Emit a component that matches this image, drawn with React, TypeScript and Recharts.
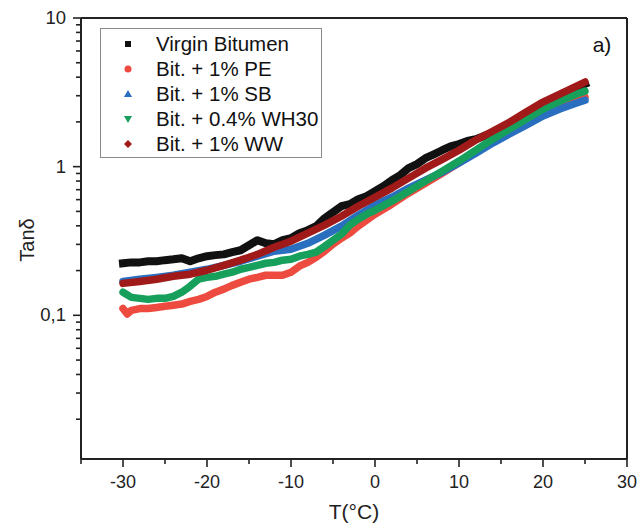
import React from 'react';
import { ComposedChart, Line, XAxis, YAxis, ReferenceLine } from 'recharts';

const FONT = '"Liberation Sans", Arial, Helvetica, sans-serif';

// Virgin Bitumen
const virginT = [-30, -29, -28, -27, -26, -25, -24, -23, -22, -21, -20, -19, -18, -17, -16, -15, -14, -13, -12, -11, -10, -9, -8, -7, -6, -5, -4, -3, -2, -1, 0, 1, 2, 3, 4, 5, 6, 7, 8, 9, 10, 11, 12, 13, 14, 16, 18, 20, 22, 24, 25];
const virginV = [0.224, 0.227, 0.227, 0.231, 0.231, 0.235, 0.238, 0.242, 0.231, 0.242, 0.25, 0.254, 0.257, 0.266, 0.274, 0.296, 0.32, 0.305, 0.301, 0.32, 0.33, 0.357, 0.374, 0.398, 0.45, 0.494, 0.542, 0.559, 0.604, 0.633, 0.684, 0.739, 0.811, 0.877, 0.977, 1.04, 1.14, 1.21, 1.29, 1.37, 1.42, 1.49, 1.53, 1.61, 1.68, 1.95, 2.26, 2.66, 3.02, 3.4, 3.6];

// Bit. + 1% PE
const peT = [-30, -29.5, -29, -28, -27, -26, -25, -24, -23, -22, -21, -20, -19, -18, -17, -16, -15, -14, -13, -12, -11, -10, -9, -8, -7, -6, -5, -4, -3, -2, -1, 0, 2, 4, 6, 8, 10, 12, 14, 16, 18, 20, 22, 24, 25];
const peV = [0.111, 0.102, 0.108, 0.111, 0.111, 0.113, 0.115, 0.117, 0.119, 0.124, 0.128, 0.134, 0.143, 0.15, 0.159, 0.167, 0.175, 0.18, 0.186, 0.186, 0.186, 0.195, 0.214, 0.227, 0.246, 0.27, 0.301, 0.33, 0.357, 0.398, 0.436, 0.479, 0.559, 0.663, 0.774, 0.904, 1.06, 1.25, 1.48, 1.73, 2.02, 2.33, 2.6, 2.85, 2.94];

// Bit. + 1% SB
const sbT = [-30, -28, -26, -24, -22, -20, -18, -16, -14, -12, -10, -8, -6, -4, -2, 0, 2, 4, 6, 8, 10, 12, 14, 16, 18, 20, 22, 24, 25];
const sbV = [0.169, 0.175, 0.18, 0.186, 0.195, 0.204, 0.217, 0.231, 0.25, 0.27, 0.278, 0.305, 0.346, 0.398, 0.471, 0.55, 0.623, 0.717, 0.811, 0.918, 1.06, 1.23, 1.44, 1.66, 1.9, 2.19, 2.44, 2.68, 2.8];

// Bit. + 0.4% WH30
const whT = [-30, -29, -28, -27, -26, -25, -24, -23, -22, -21, -20, -19, -18, -17, -16, -15, -14, -13, -12, -11, -10, -9, -8, -7, -6, -5, -4, -3, -2, -1, 0, 2, 4, 6, 8, 10, 12, 14, 16, 18, 20, 22, 24, 25];
const whV = [0.143, 0.132, 0.13, 0.128, 0.13, 0.13, 0.134, 0.143, 0.157, 0.175, 0.18, 0.183, 0.189, 0.195, 0.204, 0.21, 0.217, 0.224, 0.227, 0.235, 0.238, 0.25, 0.257, 0.266, 0.291, 0.32, 0.351, 0.404, 0.443, 0.479, 0.509, 0.586, 0.684, 0.799, 0.933, 1.09, 1.29, 1.53, 1.79, 2.09, 2.44, 2.76, 3.08, 3.22];

// Bit. + 1% WW
const wwT = [-30, -28, -26, -24, -22, -20, -18, -16, -14, -12, -10, -8, -6, -4, -2, 0, 2, 4, 6, 8, 10, 12, 14, 16, 18, 20, 22, 24, 25];
const wwV = [0.164, 0.169, 0.175, 0.183, 0.189, 0.201, 0.217, 0.235, 0.257, 0.287, 0.315, 0.357, 0.404, 0.464, 0.542, 0.623, 0.717, 0.837, 0.977, 1.12, 1.29, 1.51, 1.73, 1.99, 2.33, 2.72, 3.08, 3.48, 3.71];

const seriesNames = ['Virgin Bitumen', 'Bit. + 1% PE', 'Bit. + 1% SB', 'Bit. + 0.4% WH30', 'Bit. + 1% WW'];
const seriesColors = ['#111111', '#ee4b40', '#2a6ec0', '#17a05c', '#a11a1a'];

const xTicks = [-35, -30, -25, -20, -15, -10, -5, 0, 5, 10, 15, 20, 25, 30];
const xMajor = [-30, -20, -10, 0, 10, 20, 30];
const yTicks = [0.02, 0.03, 0.04, 0.05, 0.06, 0.07, 0.08, 0.09, 0.1, 0.2, 0.3, 0.4, 0.5, 0.6, 0.7, 0.8, 0.9, 1, 2, 3, 4, 5, 6, 7, 8, 9, 10];
const yMajorLabels: Record<string, string> = { '0.1': '0,1', '1': '1', '10': '10' };

const zip = (t: number[], v: number[]) => t.map((x, i) => ({ t: x, v: v[i] }));
const seriesData = [zip(virginT, virginV), zip(peT, peV), zip(sbT, sbV), zip(whT, whV), zip(wwT, wwV)];

const XTick = (props: any) => {
  const { x, y, payload } = props;
  const major = xMajor.includes(payload.value);
  return (
    <g>
      <line x1={x} x2={x} y1={y} y2={y + (major ? 8 : 5)} stroke="#222" strokeWidth={1.6} />
      {major && (
        <text x={x} y={y + 29} textAnchor="middle" fontSize={18} fill="#222" fontFamily={FONT}>
          {payload.value}
        </text>
      )}
    </g>
  );
};

const YTick = (props: any) => {
  const { x, y, payload } = props;
  const label = yMajorLabels[String(payload.value)];
  return (
    <g>
      <line x1={x} x2={x - (label ? 8 : 5)} y1={y} y2={y} stroke="#222" strokeWidth={1.6} />
      {label && (
        <text x={x - 15} y={y + 6} textAnchor="end" fontSize={18.5} fill="#222" fontFamily={FONT}>
          {label}
        </text>
      )}
    </g>
  );
};

const Marker = ({ i, color }: { i: number; color: string }) => {
  const c = 8;
  let shape: React.ReactNode = null;
  if (i === 0) shape = <rect x={c - 3} y={c - 3} width={6} height={6} fill={color} />;
  if (i === 1) shape = <circle cx={c} cy={c} r={3.5} fill={color} />;
  if (i === 2) shape = <polygon points={`${c},${c - 4} ${c + 4},${c + 3} ${c - 4},${c + 3}`} fill={color} />;
  if (i === 3) shape = <polygon points={`${c - 4},${c - 3} ${c + 4},${c - 3} ${c},${c + 4}`} fill={color} />;
  if (i === 4) shape = <polygon points={`${c},${c - 4} ${c + 4},${c} ${c},${c + 4} ${c - 4},${c}`} fill={color} />;
  return (
    <svg width={16} height={16} style={{ position: 'absolute', left: -8, top: -8 }}>
      {shape}
    </svg>
  );
};

export default function App() {
  return (
    <div style={{ position: 'absolute', left: 0, top: 0, width: 637, height: 528, background: '#fff', fontFamily: FONT }}>
      <ComposedChart width={637} height={528} margin={{ top: 18, right: 10, bottom: 0, left: 0 }}>
        <XAxis
          type="number"
          dataKey="t"
          domain={[-35, 30]}
          ticks={xTicks}
          interval={0}
          allowDataOverflow
          height={69}
          tickSize={0}
          tickMargin={0}
          tick={<XTick />}
          stroke="#222"
          strokeWidth={2}
        />
        <YAxis
          type="number"
          dataKey="v"
          scale="log"
          domain={[0.0108, 10]}
          ticks={yTicks}
          interval={0}
          allowDataOverflow
          width={81}
          tickSize={0}
          tickMargin={0}
          tick={<YTick />}
          stroke="#222"
          strokeWidth={2}
        />
        <ReferenceLine y={10} stroke="#222" strokeWidth={2} />
        <ReferenceLine x={30} stroke="#222" strokeWidth={2} />
        {seriesData.map((d, i) => (
          <Line
            key={seriesNames[i]}
            data={d}
            dataKey="v"
            name={seriesNames[i]}
            type="linear"
            stroke={seriesColors[i]}
            strokeWidth={i === 0 ? 8 : 7.5}
            strokeLinejoin="round"
            strokeLinecap={i === 0 ? 'square' : 'round'}
            dot={false}
            isAnimationActive={false}
          />
        ))}
      </ComposedChart>
      <div style={{ position: 'absolute', left: 0, top: 0, width: 637, height: 528, pointerEvents: 'none' }}>
        <svg width={637} height={528} style={{ position: 'absolute', left: 0, top: 0 }}>
          <text x={34} y={240} transform="rotate(-90 34 240)" textAnchor="middle" fontSize={20} fill="#222" fontFamily={FONT}>
            Tanδ
          </text>
          <text x={354} y={519} textAnchor="middle" fontSize={21} fill="#222" fontFamily={FONT}>
            T(°C)
          </text>
          <text x={602} y={52} textAnchor="middle" fontSize={21} fill="#111" fontFamily={FONT}>
            a)
          </text>
        </svg>
        <div
          style={{
            position: 'absolute',
            left: 100,
            top: 28,
            width: 220,
            height: 128,
            border: '1.5px solid #8a8a8a',
            background: '#fff',
          }}
        >
          {seriesNames.map((n, i) => (
            <div key={n} style={{ position: 'absolute', left: 0, top: 15 + i * 25, height: 0 }}>
              <div style={{ position: 'absolute', left: 27, top: 0 }}>
                <Marker i={i} color={seriesColors[i]} />
              </div>
              <div
                style={{
                  position: 'absolute',
                  left: 55,
                  top: -12,
                  fontSize: 20.5,
                  lineHeight: '24px',
                  whiteSpace: 'nowrap',
                  color: '#111',
                }}
              >
                {n}
              </div>
            </div>
          ))}
        </div>
      </div>
    </div>
  );
}
